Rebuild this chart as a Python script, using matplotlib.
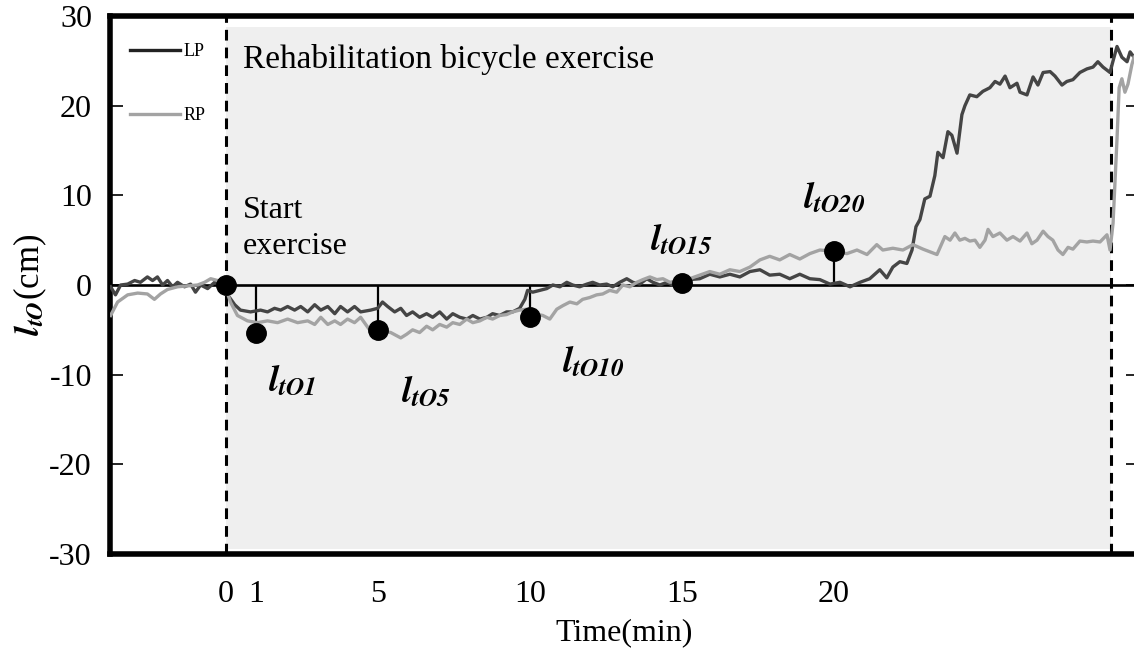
import matplotlib.pyplot as plt

plt.rcParams['font.family'] = ['Liberation Serif', 'DejaVu Serif']
plt.rcParams['mathtext.fontset'] = 'stix'
plt.rcParams['axes.unicode_minus'] = False

# LP curve (min, cm)
t_lp = [-3.78, -3.62, -3.45, -3.22, -2.99, -2.80, -2.57, -2.40, -2.24, -2.07,
        -1.91, -1.74, -1.58, -1.35, -1.15, -0.99, -0.82, -0.59, -0.36, 0.00,
        0.07, 0.30, 0.49, 0.82, 1.15, 1.38, 1.61, 1.81, 2.04, 2.27,
        2.47, 2.70, 2.93, 3.13, 3.36, 3.59, 3.78, 4.01, 4.24, 4.44,
        4.77, 5.00, 5.16, 5.33, 5.56, 5.76, 5.95, 6.15, 6.38, 6.61,
        6.81, 7.04, 7.27, 7.47, 7.70, 7.93, 8.13, 8.36, 8.59, 8.78,
        9.01, 9.24, 9.44, 9.67, 9.84, 9.93, 10.10, 10.33, 10.56, 10.76,
        10.99, 11.22, 11.41, 11.64, 11.88, 12.07, 12.30, 12.53, 12.73, 12.96,
        13.19, 13.39, 13.62, 13.85, 14.05, 14.28, 14.51, 14.70, 14.93, 15.26,
        15.59, 15.92, 16.25, 16.58, 16.91, 17.24, 17.57, 17.89, 18.22, 18.55,
        18.88, 19.21, 19.54, 19.87, 20.20, 20.53, 20.86, 21.18, 21.51, 21.74,
        21.94, 22.17, 22.40, 22.57, 22.70, 22.83, 22.99, 23.16, 23.32, 23.42,
        23.59, 23.75, 23.88, 24.05, 24.21, 24.31, 24.47, 24.70, 24.90, 25.13,
        25.30, 25.46, 25.63, 25.79, 26.02, 26.12, 26.35, 26.55, 26.71, 26.88,
        27.11, 27.27, 27.50, 27.66, 27.86, 28.09, 28.32, 28.52, 28.68, 28.85,
        29.08, 29.18, 29.31, 29.47, 29.64, 29.74, 29.87]
lp = [-0.2, -1.1, 0.0, 0.1, 0.5, 0.3, 0.9, 0.5, 0.9, 0.0,
      0.5, -0.2, 0.3, -0.2, 0.1, -0.8, 0.0, -0.4, 0.3, 0.0,
      -1.1, -2.2, -2.8, -3.0, -2.8, -3.0, -2.6, -2.8, -2.4, -2.8,
      -2.4, -3.0, -2.2, -2.8, -2.4, -3.2, -2.4, -3.0, -2.4, -3.0,
      -2.8, -2.6, -1.9, -2.4, -3.0, -2.6, -3.4, -3.0, -3.6, -3.2,
      -3.6, -3.0, -3.8, -3.2, -3.6, -3.8, -3.4, -3.8, -3.6, -3.2,
      -3.4, -3.0, -3.0, -2.6, -1.6, -0.6, -0.8, -0.6, -0.4, 0.0,
      -0.2, 0.3, 0.0, -0.2, 0.1, 0.3, 0.0, 0.1, -0.2, 0.3,
      0.7, 0.3, 0.1, 0.7, 0.3, 0.0, 0.3, 0.0, 0.3, 0.6,
      0.7, 1.2, 0.9, 1.2, 0.9, 1.5, 1.7, 1.1, 1.2, 0.7,
      1.2, 0.7, 0.6, 0.1, 0.3, -0.2, 0.3, 0.7, 1.7, 0.8,
      2.0, 2.6, 2.4, 3.9, 6.5, 7.3, 9.6, 9.9, 12.2, 14.8,
      14.2, 17.1, 16.7, 14.7, 19.0, 20.0, 21.2, 21.0, 21.6, 22.0,
      22.7, 22.4, 23.3, 22.0, 22.5, 21.5, 21.2, 23.2, 22.3, 23.7,
      23.8, 23.3, 22.3, 22.7, 22.9, 23.7, 24.1, 24.3, 24.9, 24.3,
      23.7, 25.0, 26.6, 25.4, 24.9, 26.0, 25.4]

# RP curve (min, cm)
t_rp = [-3.78, -3.55, -3.22, -2.89, -2.57, -2.34, -2.14, -1.91, -1.58, -1.25,
        -0.92, -0.69, -0.49, -0.26, -0.10, 0.00, 0.16, 0.39, 0.72, 1.05,
        1.38, 1.71, 2.04, 2.37, 2.70, 2.93, 3.13, 3.36, 3.59, 3.78,
        4.01, 4.24, 4.44, 4.67, 4.84, 5.10, 5.43, 5.76, 5.95, 6.15,
        6.38, 6.61, 6.81, 7.04, 7.27, 7.47, 7.70, 7.93, 8.13, 8.36,
        8.59, 8.78, 9.01, 9.24, 9.44, 9.67, 9.90, 10.16, 10.43, 10.66,
        10.89, 11.09, 11.32, 11.55, 11.74, 11.97, 12.20, 12.40, 12.63, 12.86,
        13.06, 13.29, 13.52, 13.72, 13.95, 14.18, 14.38, 14.61, 14.93, 15.26,
        15.59, 15.92, 16.25, 16.58, 16.91, 17.24, 17.57, 17.89, 18.22, 18.55,
        18.88, 19.21, 19.54, 19.87, 20.43, 20.76, 21.09, 21.41, 21.61, 21.94,
        22.27, 22.60, 22.93, 23.16, 23.39, 23.65, 23.82, 23.98, 24.14, 24.31,
        24.47, 24.64, 24.80, 24.97, 25.07, 25.23, 25.46, 25.69, 25.89, 26.12,
        26.35, 26.51, 26.68, 26.88, 27.04, 27.20, 27.37, 27.53, 27.70, 27.86,
        28.09, 28.32, 28.52, 28.75, 28.98, 29.08, 29.18, 29.31, 29.38, 29.47,
        29.57, 29.67, 29.80, 29.87]
rp = [-3.4, -1.9, -1.1, -0.9, -1.0, -1.6, -1.0, -0.5, -0.2, -0.1,
      0.0, 0.3, 0.7, 0.5, 0.3, -0.2, -1.9, -3.4, -4.0, -4.2,
      -4.0, -4.2, -3.8, -4.2, -4.0, -4.4, -3.6, -4.4, -4.0, -4.4,
      -3.8, -4.2, -3.6, -4.7, -5.5, -5.1, -5.3, -5.9, -5.5, -5.0,
      -5.3, -4.6, -5.0, -4.4, -4.7, -4.2, -4.4, -3.8, -4.2, -4.0,
      -3.6, -3.8, -3.4, -3.3, -3.0, -2.8, -2.7, -3.2, -3.4, -3.8,
      -2.7, -2.3, -1.9, -2.1, -1.6, -1.4, -1.1, -1.0, -0.6, -0.8,
      0.0, -0.2, 0.3, 0.6, 0.9, 0.6, 0.7, 0.3, 0.5, 0.7,
      1.1, 1.5, 1.2, 1.7, 1.5, 2.0, 2.8, 3.2, 2.8, 3.4,
      2.9, 3.5, 3.9, 3.8, 3.5, 3.9, 3.4, 4.5, 3.9, 4.1,
      3.9, 4.5, 4.0, 3.7, 3.4, 5.4, 5.0, 5.8, 5.0, 5.2,
      4.9, 5.0, 4.2, 5.0, 6.2, 5.4, 5.8, 5.0, 5.4, 4.9,
      5.8, 4.6, 5.0, 6.0, 5.4, 5.0, 3.9, 3.4, 4.2, 4.0,
      4.9, 4.8, 4.9, 4.8, 5.6, 3.9, 6.9, 16.3, 22.0, 23.0,
      21.5, 22.4, 24.6, 25.4]

mark_t = [0, 1, 5, 10, 15, 20]
mark_v = [0.0, -5.4, -5.0, -3.6, 0.2, 3.8]
mark_names = [r'$\mathbfit{l}_{\mathbfit{tO1}}$', r'$\mathbfit{l}_{\mathbfit{tO5}}$',
              r'$\mathbfit{l}_{\mathbfit{tO10}}$', r'$\mathbfit{l}_{\mathbfit{tO15}}$',
              r'$\mathbfit{l}_{\mathbfit{tO20}}$']
name_t = [2.2, 6.6, 12.1, 15.0, 20.0]
name_v = [-10.8, -12.0, -8.7, 5.0, 9.6]
xtick_pos = [0, 1, 5, 10, 15, 20]
xtick_labels = ['0', '1', '5', '10', '15', '20']
ex_start, ex_end = 0, 29.1

fig = plt.figure(figsize=(11.34, 6.49), dpi=100)
ax = fig.add_axes([110 / 1134, 1 - 554 / 649, (1138 - 110) / 1134, (554 - 16) / 649])

ax.axvspan(ex_start, ex_end, ymin=0.01, ymax=0.98, color='#efefef', lw=0, zorder=0)
for xv in (ex_start, ex_end):
    ax.axvline(xv, color='k', lw=2.2, ls=(0, (3.5, 2.3)), zorder=2)
ax.axhline(0, color='k', lw=1.9, zorder=2)

# stems from the zero line to the marked points
ax.vlines(mark_t[1:], 0, mark_v[1:], color='k', lw=1.6, zorder=2)

ax.plot(t_lp, lp, color='#454545', lw=2.4, label='LP', zorder=3)
ax.plot(t_rp, rp, color='#a3a3a3', lw=2.4, label='RP', zorder=3)
ax.plot(mark_t, mark_v, 'o', color='k', ms=14, zorder=5)

for name, tx, vy in zip(mark_names, name_t, name_v):
    ax.text(tx, vy, name, fontsize=26, ha='center', va='center')

ax.text(0.56, 25.2, 'Rehabilitation bicycle exercise', fontsize=24, va='center')
ax.text(0.56, 6.3, 'Start\nexercise', fontsize=23, va='center', linespacing=1.3)

ax.set_xlim(-3.8, 30)
ax.set_ylim(-30, 30)
ax.set_yticks(range(-30, 31, 10))
ax.set_xticks(xtick_pos, labels=xtick_labels)
ax.tick_params(axis='y', direction='in', length=9, width=1.2, left=True, right=True,
               labelsize=23, pad=13)
ax.tick_params(axis='x', length=0, labelsize=23, pad=19)
ax.set_xlabel('Time(min)', fontsize=23, labelpad=6)
fig.text(0.027, 1 - 285 / 649, r'$\mathbfit{l}_{\mathbfit{tO}}$(cm)', rotation=90,
         fontsize=25, ha='center', va='center')

for s in ax.spines.values():
    s.set_linewidth(4)

leg = ax.legend(loc='upper left', bbox_to_anchor=(0.019, 0.95), frameon=False, fontsize=13,
                handlelength=2.8, handletextpad=0.2, labelspacing=2.6, borderaxespad=0,
                borderpad=0)
leg.get_lines()[0].set_color('#222222')

fig.savefig('out.png', dpi=100)
